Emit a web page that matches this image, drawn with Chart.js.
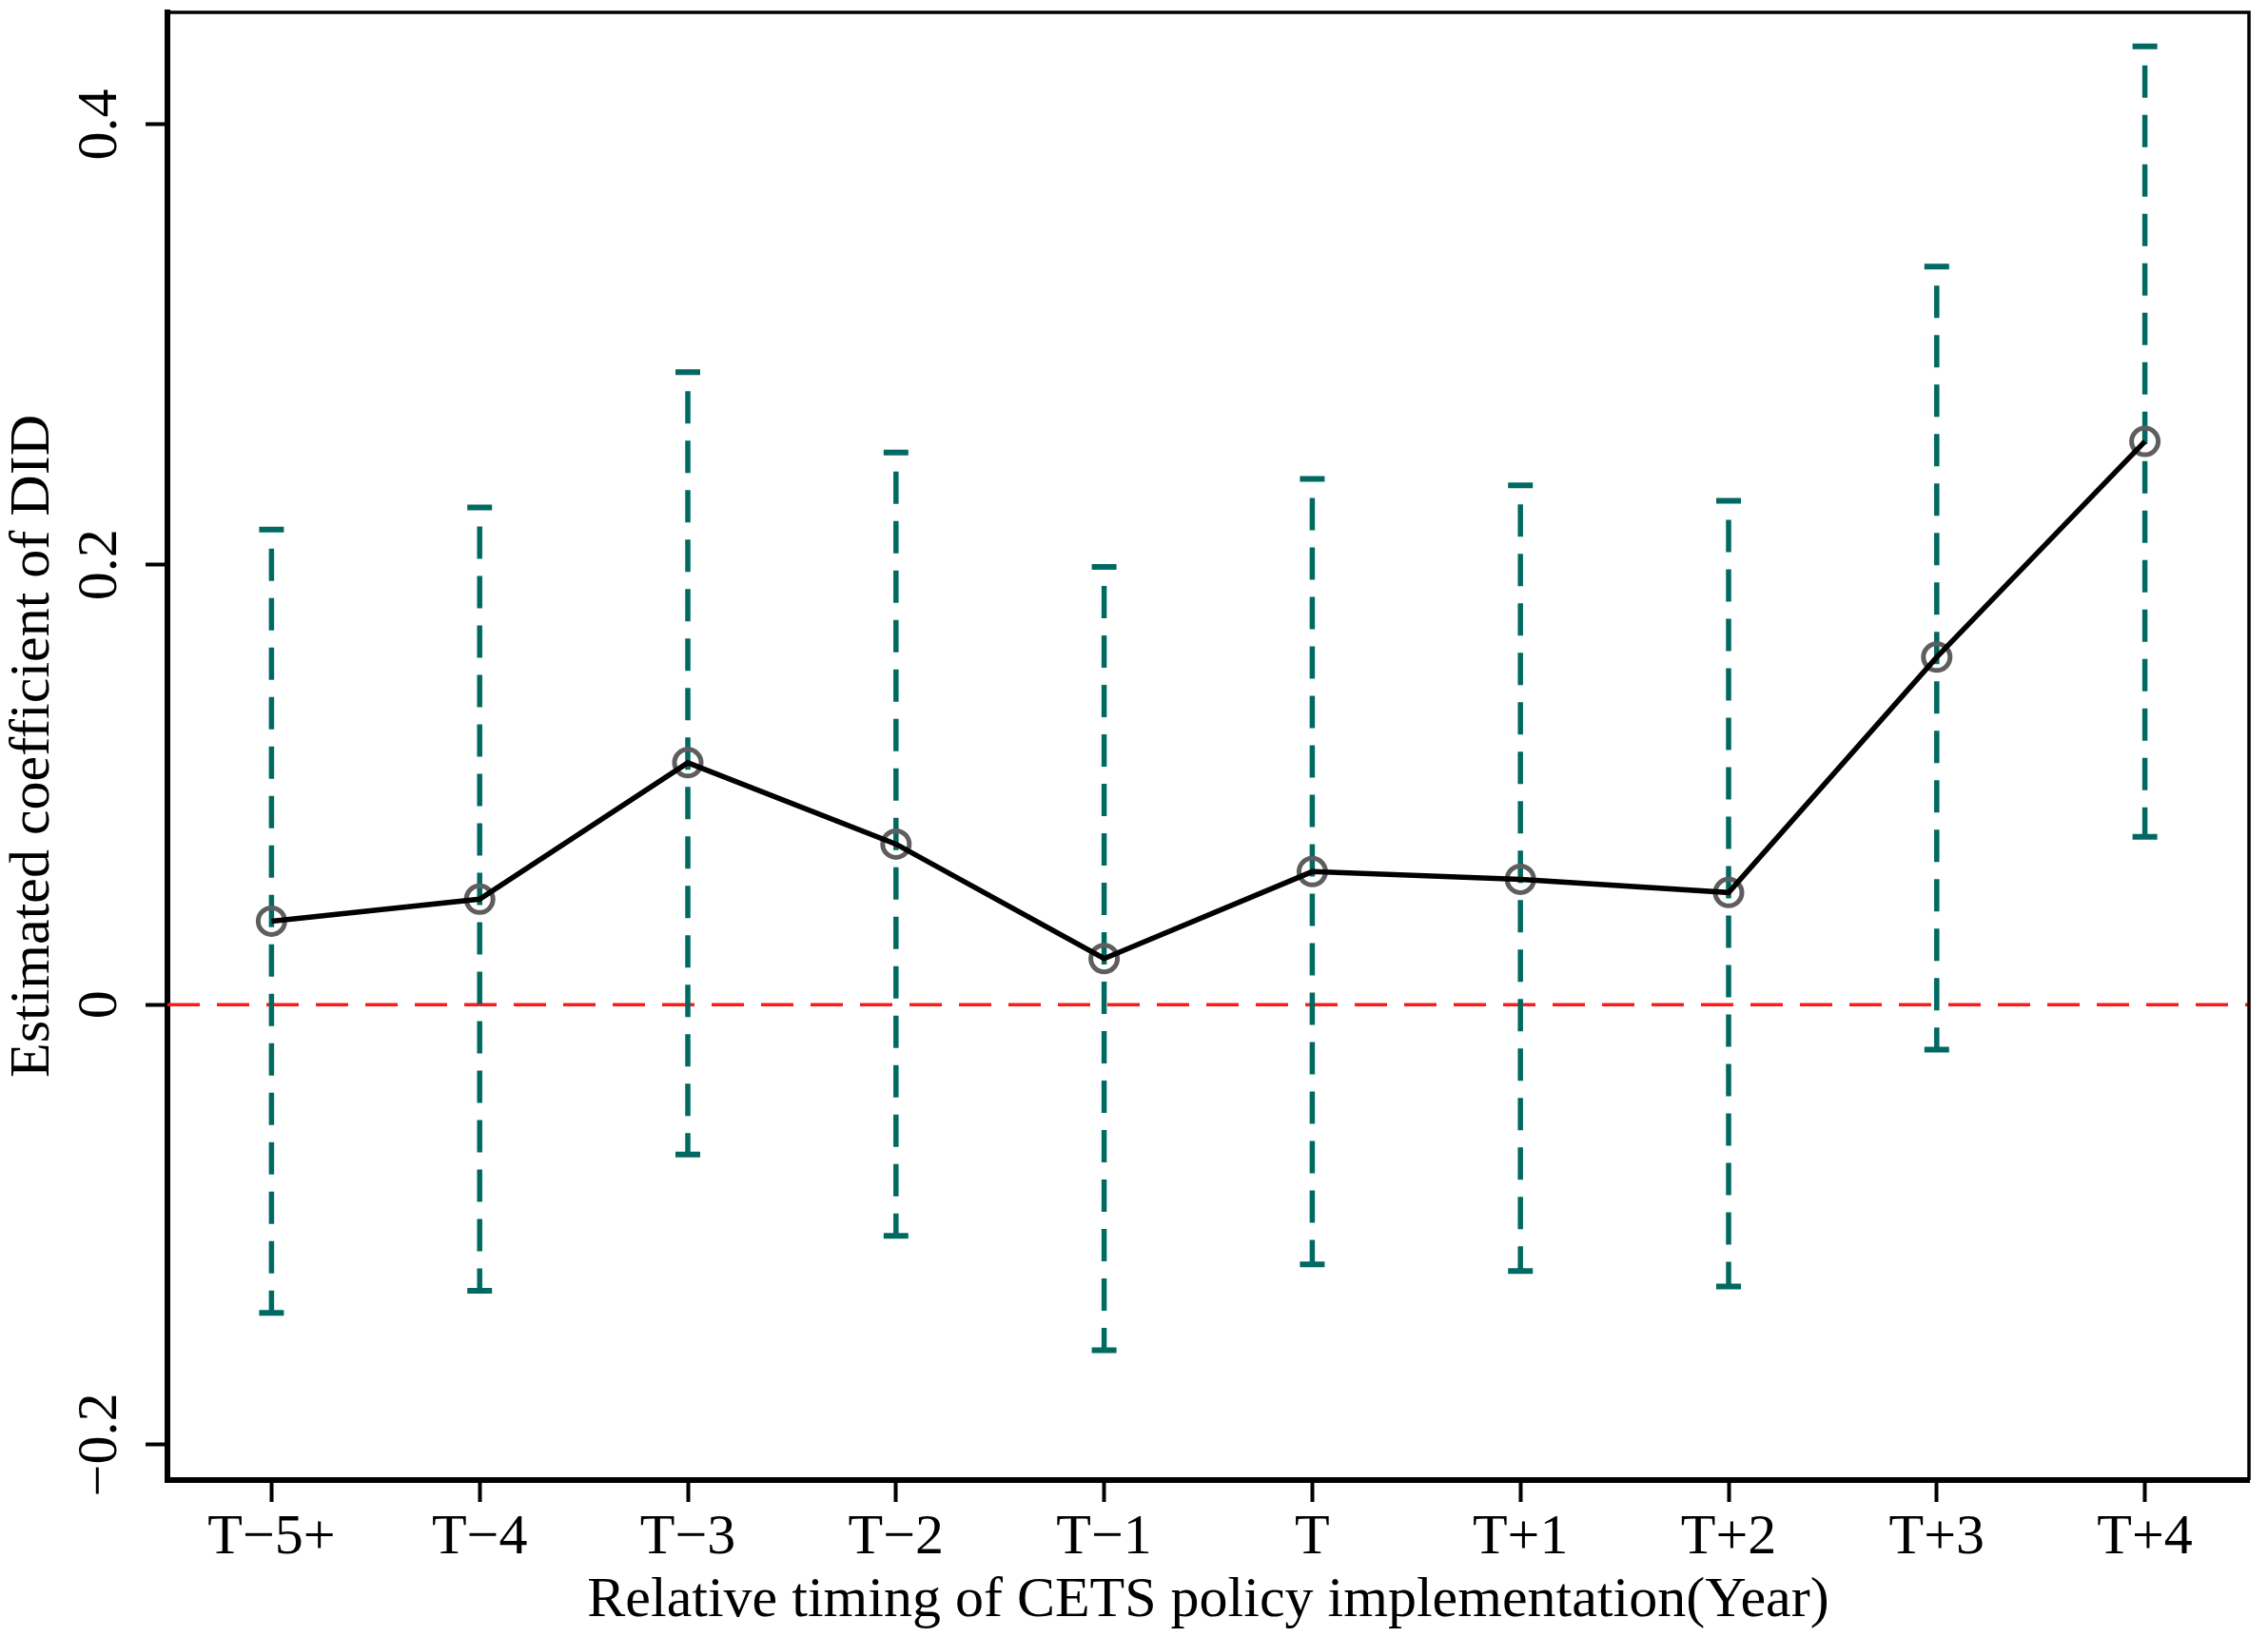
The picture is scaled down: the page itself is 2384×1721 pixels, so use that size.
<!DOCTYPE html>
<html>
<head>
<meta charset="utf-8">
<script src="https://cdn.jsdelivr.net/npm/chart.js@4.4.1/dist/chart.umd.min.js"></script>
<style>
  html, body { margin: 0; padding: 0; background: #fff; }
  #wrap { width: 2384px; height: 1721px; position: relative; }
</style>
</head>
<body>
<div id="wrap"><canvas id="didChart"></canvas></div>
<script>
// event-study estimates
const periods = ['T\u22125+', 'T\u22124', 'T\u22123', 'T\u22122', 'T\u22121', 'T', 'T+1', 'T+2', 'T+3', 'T+4'];
const coef  = [0.038, 0.048, 0.110, 0.073, 0.021, 0.0605, 0.057, 0.051, 0.158, 0.256];
const upper = [0.216, 0.226, 0.2875, 0.251, 0.199, 0.239, 0.236, 0.229, 0.3355, 0.4355];
const lower = [-0.140, -0.130, -0.068, -0.105, -0.157, -0.118, -0.121, -0.128, -0.0204, 0.0763];
const yTicks = [-0.2, 0, 0.2, 0.4];

const teal = '#006a62';
const FONT = 'Liberation Serif';

Chart.defaults.font.family = FONT;
Chart.defaults.color = '#000';

// zero line + confidence intervals, under the series
const ciPlugin = {
  id: 'ciBars',
  beforeDatasetsDraw(chart) {
    const {ctx, chartArea, scales: {x, y}} = chart;
    ctx.save();
    // red dashed reference at 0
    const y0 = y.getPixelForValue(0);
    ctx.strokeStyle = '#ff1a1a';
    ctx.lineWidth = 3.5;
    ctx.setLineDash([34, 18]);
    ctx.beginPath();
    ctx.moveTo(chartArea.left, y0);
    ctx.lineTo(chartArea.right, y0);
    ctx.stroke();

    ctx.strokeStyle = teal;
    for (let i = 0; i < periods.length; i++) {
      const px = x.getPixelForValue(i);
      const pTop = y.getPixelForValue(upper[i]);
      const pBot = y.getPixelForValue(lower[i]);
      ctx.lineWidth = 5.5;
      ctx.setLineDash([34, 18]);
      ctx.lineDashOffset = -20;
      ctx.beginPath();
      ctx.moveTo(px, pTop);
      ctx.lineTo(px, pBot);
      ctx.stroke();
      ctx.setLineDash([]);
      ctx.lineWidth = 6;
      ctx.beginPath();
      ctx.moveTo(px - 13, pTop);
      ctx.lineTo(px + 13, pTop);
      ctx.moveTo(px - 13, pBot);
      ctx.lineTo(px + 13, pBot);
      ctx.stroke();
    }
    ctx.restore();
  }
};

// rotated y tick labels and the thin top/right frame
const framePlugin = {
  id: 'frame',
  afterDraw(chart) {
    const {ctx, chartArea, scales: {y}} = chart;
    ctx.save();
    ctx.strokeStyle = '#000';
    ctx.lineWidth = 3.5;
    ctx.beginPath();
    ctx.moveTo(chartArea.left, chartArea.top);
    ctx.lineTo(chartArea.right, chartArea.top);
    ctx.lineTo(chartArea.right, chartArea.bottom);
    ctx.stroke();

    ctx.fillStyle = '#000';
    ctx.font = '60px "' + FONT + '"';
    ctx.textAlign = 'center';
    ctx.textBaseline = 'alphabetic';
    y.ticks.forEach(t => {
      const py = y.getPixelForValue(t.value);
      let txt = Math.abs(t.value) < 1e-9 ? '0' : t.value.toFixed(1);
      txt = txt.replace('-', '\u2212');
      ctx.save();
      ctx.translate(122, py);
      ctx.rotate(-Math.PI / 2);
      ctx.fillText(txt, 0, 0);
      ctx.restore();
    });
    ctx.restore();
  }
};

const didChart = new Chart(document.getElementById('didChart'), {
  type: 'line',
  data: {
    labels: periods,
    datasets: [
      {
        data: coef,
        borderColor: '#000',
        borderWidth: 5.5,
        pointRadius: 0,
        tension: 0,
        fill: false,
        order: 0
      },
      {
        data: coef,
        showLine: false,
        pointStyle: 'circle',
        pointRadius: 14,
        pointBorderWidth: 5,
        pointBorderColor: '#5e5e5e',
        pointBackgroundColor: 'rgba(0,0,0,0)',
        order: 1
      }
    ]
  },
  options: {
    responsive: true,
    maintainAspectRatio: false,
    devicePixelRatio: 1,
    animation: false,
    layout: { autoPadding: false, padding: { top: 13, right: 20, left: 0, bottom: 0 } },
    plugins: { legend: { display: false }, tooltip: { enabled: false } },
    scales: {
      x: {
        type: 'category',
        offset: true,
        grid: { drawOnChartArea: false, drawTicks: true, tickLength: 23, tickWidth: 4, tickColor: '#000' },
        border: { display: true, color: '#000', width: 6 },
        ticks: { font: { size: 60, lineHeight: 1 }, color: '#000', padding: 8, maxRotation: 0, autoSkip: false },
        title: {
          display: true,
          text: 'Relative timing of CETS policy implementation(Year)',
          font: { size: 60, lineHeight: 1 },
          color: '#000',
          padding: { top: 0, bottom: 8 }
        },
        afterFit(scale) { scale.height = 165; }
      },
      y: {
        min: -0.216,
        max: 0.451,
        afterBuildTicks(scale) { scale.ticks = yTicks.map(v => ({ value: v })); },
        grid: { drawOnChartArea: false, drawTicks: true, tickLength: 23, tickWidth: 4, tickColor: '#000' },
        border: { display: true, color: '#000', width: 6 },
        ticks: { display: false },
        title: {
          display: true,
          text: 'Estimated coefficient of DID',
          font: { size: 60, lineHeight: 1 },
          color: '#000',
          padding: { top: 5, bottom: 0 }
        },
        afterFit(scale) { scale.width = 176; }
      }
    }
  },
  plugins: [ciPlugin, framePlugin]
});
</script>
</body>
</html>
